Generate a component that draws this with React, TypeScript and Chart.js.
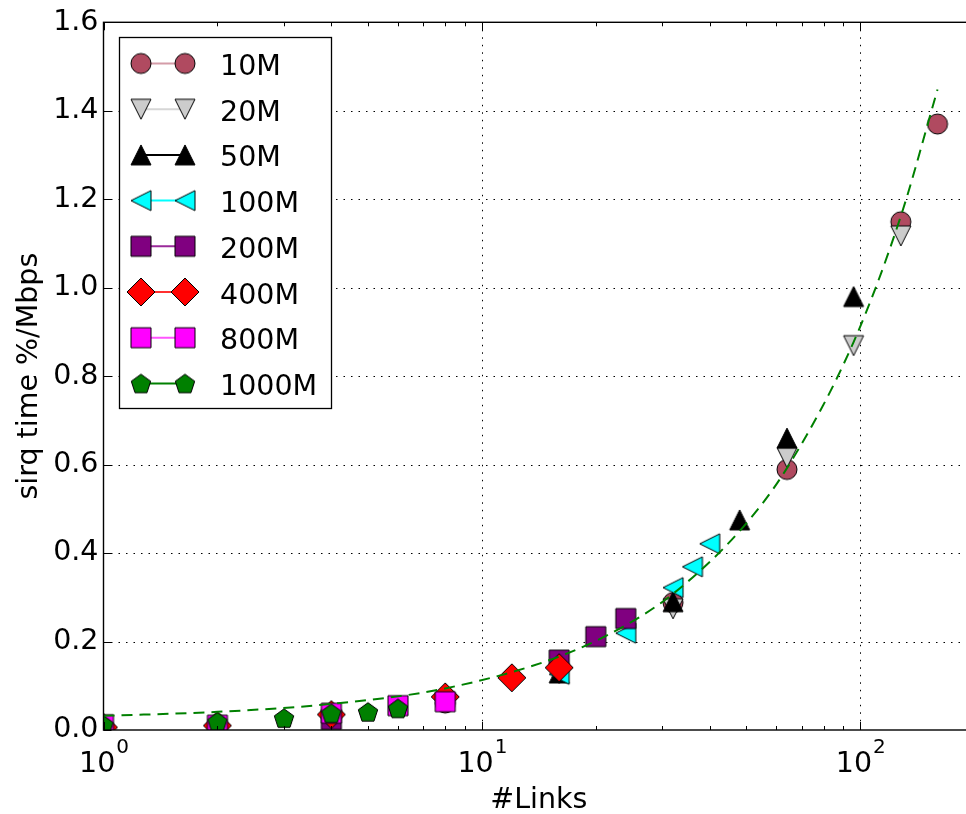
import React, { useEffect, useRef } from 'react';
import { Chart, registerables } from 'chart.js';

Chart.register(...registerables);

// ---------- data ----------
const seriesLabels = ['10M', '20M', '50M', '100M', '200M', '400M', '800M', '1000M'];

const links10M = [8, 32, 64, 128, 160];
const sirq10M = [0.061, 0.288, 0.589, 1.149, 1.37];

const links20M = [16, 32, 64, 96, 128];
const sirq20M = [0.128, 0.274, 0.616, 0.869, 1.117];

const links50M = [16, 32, 48, 64, 96];
const sirq50M = [0.129, 0.29, 0.475, 0.66, 0.98];

const links100M = [16, 24, 32, 36, 40];
const sirq100M = [0.126, 0.219, 0.322, 0.369, 0.421];

const links200M = [4, 16, 20, 24];
const sirq200M = [0.024, 0.158, 0.211, 0.252];

const links400M = [1, 2, 4, 8, 12, 16];
const sirq400M = [0.006, 0.01, 0.035, 0.075, 0.118, 0.141];

const links800M = [1, 2, 4, 6, 8];
const sirq800M = [0.012, 0.011, 0.038, 0.055, 0.064];

const links1000M = [1, 2, 3, 4, 5, 6];
const sirq1000M = [0.012, 0.019, 0.027, 0.038, 0.041, 0.049];

const fitLinks = [1, 2, 4, 8, 16, 24, 32, 48, 64, 96, 128, 160];
const fitSirq = [0.032, 0.041, 0.059, 0.094, 0.166, 0.237, 0.308, 0.45, 0.592, 0.877, 1.162, 1.448];

const yTickValues = [0, 0.2, 0.4, 0.6, 0.8, 1.0, 1.2, 1.4, 1.6];
const xMajorTicks = [1, 10, 100];
const xTickExponents = ['0', '1', '2'];
const xMin = 1;
const xMax = 200;
const yMin = 0;
const yMax = 1.6;

const xTitle = '#Links';
const yTitle = 'sirq time %/Mbps';

// ---------- styles ----------
const FONT = 'DejaVu Sans';
const FS = 28.5;

const seriesStyles = [
  { shape: 'circle', fill: '#b04a60', line: 'rgba(176,74,96,0.55)' },
  { shape: 'down', fill: '#cccccc', line: '#d6d6d6' },
  { shape: 'up', fill: '#000000', line: '#000000' },
  { shape: 'left', fill: '#00ffff', line: '#00ffff' },
  { shape: 'square', fill: '#800080', line: '#9a2a9a' },
  { shape: 'diamond', fill: '#ff0000', line: '#ff3030' },
  { shape: 'square', fill: '#ff00ff', line: '#ff55ff' },
  { shape: 'pentagon', fill: '#008000', line: '#008000' },
];

function makeMarker(shape: string, fill: string): HTMLCanvasElement {
  const size = 32;
  const c = document.createElement('canvas');
  c.width = size;
  c.height = size;
  const g = c.getContext('2d')!;
  const m = size / 2;
  g.beginPath();
  if (shape === 'circle') {
    g.arc(m, m, 10, 0, Math.PI * 2);
  } else if (shape === 'up') {
    g.moveTo(m, m - 10);
    g.lineTo(m + 10, m + 10);
    g.lineTo(m - 10, m + 10);
    g.closePath();
  } else if (shape === 'down') {
    g.moveTo(m, m + 10);
    g.lineTo(m + 10, m - 10);
    g.lineTo(m - 10, m - 10);
    g.closePath();
  } else if (shape === 'left') {
    g.moveTo(m - 10, m);
    g.lineTo(m + 10, m - 10);
    g.lineTo(m + 10, m + 10);
    g.closePath();
  } else if (shape === 'square') {
    g.rect(m - 10, m - 10, 20, 20);
  } else if (shape === 'diamond') {
    g.moveTo(m, m - 14);
    g.lineTo(m + 14, m);
    g.lineTo(m, m + 14);
    g.lineTo(m - 14, m);
    g.closePath();
  } else if (shape === 'pentagon') {
    for (let k = 0; k < 5; k++) {
      const a = -Math.PI / 2 + (k * 2 * Math.PI) / 5;
      const px = m + 10.2 * Math.cos(a);
      const py = m + 1 + 10.2 * Math.sin(a);
      if (k === 0) g.moveTo(px, py);
      else g.lineTo(px, py);
    }
    g.closePath();
  }
  g.fillStyle = fill;
  g.fill();
  g.lineWidth = 1;
  g.strokeStyle = '#000';
  g.stroke();
  return c;
}

export default function App() {
  const ref = useRef<HTMLCanvasElement>(null);

  useEffect(() => {
    const canvas = ref.current;
    if (!canvas) return;

    const markers = seriesStyles.map((s) => makeMarker(s.shape, s.fill));
    const xs = [links10M, links20M, links50M, links100M, links200M, links400M, links800M, links1000M];
    const ys = [sirq10M, sirq20M, sirq50M, sirq100M, sirq200M, sirq400M, sirq800M, sirq1000M];

    const datasets: any[] = seriesLabels.map((label, i) => ({
      label,
      data: xs[i].map((x, j) => ({ x, y: ys[i][j] })),
      showLine: false,
      pointStyle: markers[i],
      pointRadius: 10,
      pointHoverRadius: 10,
      borderColor: seriesStyles[i].fill,
      backgroundColor: seriesStyles[i].fill,
      order: 20 - i,
      clip: 0,
    }));
    datasets.push({
      label: 'fit',
      data: fitLinks.map((x, j) => ({ x, y: fitSirq[j] })),
      showLine: true,
      borderColor: '#008000',
      borderWidth: 2,
      borderDash: [11, 7],
      pointRadius: 0,
      pointHoverRadius: 0,
      cubicInterpolationMode: 'monotone',
      fill: false,
      order: 0,
      clip: 0,
    });

    const decor = {
      id: 'decor',
      beforeDatasetsDraw(chart: any) {
        const { ctx, chartArea: a, scales } = chart;
        ctx.save();
        ctx.strokeStyle = '#000';
        ctx.lineWidth = 1;
        ctx.setLineDash([1.5, 6]);
        for (const v of xMajorTicks) {
          const px = Math.round(scales.x.getPixelForValue(v)) + 0.5;
          if (px <= a.left + 2) continue;
          ctx.beginPath();
          ctx.moveTo(px, a.top);
          ctx.lineTo(px, a.bottom);
          ctx.stroke();
        }
        for (const v of yTickValues) {
          const py = Math.round(scales.y.getPixelForValue(v)) + 0.5;
          if (py >= a.bottom - 2 || py <= a.top + 2) continue;
          ctx.beginPath();
          ctx.moveTo(a.left, py);
          ctx.lineTo(a.right, py);
          ctx.stroke();
        }
        ctx.restore();
      },
      afterDatasetsDraw(chart: any) {
        const { ctx, chartArea: a, scales } = chart;
        ctx.save();
        ctx.setLineDash([]);
        ctx.strokeStyle = '#000';
        // ticks (inward)
        ctx.lineWidth = 1;
        const tick = (x1: number, y1: number, x2: number, y2: number) => {
          ctx.beginPath();
          ctx.moveTo(x1, y1);
          ctx.lineTo(x2, y2);
          ctx.stroke();
        };
        for (let d = 1; d <= 100; d *= 10) {
          for (let k = 1; k <= 9; k++) {
            const v = k * d;
            if (v < xMin || v > xMax) continue;
            const px = Math.round(scales.x.getPixelForValue(v)) + 0.5;
            const len = k === 1 ? 8 : 4;
            tick(px, a.bottom, px, a.bottom - len);
            tick(px, a.top, px, a.top + len);
          }
        }
        for (const v of yTickValues) {
          const py = Math.round(scales.y.getPixelForValue(v)) + 0.5;
          tick(a.left, py, a.left + 8, py);
          tick(a.right, py, a.right - 8, py);
        }
        // frame
        ctx.lineWidth = 1.4;
        ctx.strokeRect(a.left, a.top, a.right - a.left, a.bottom - a.top);

        // x tick labels 10^n
        ctx.fillStyle = '#000';
        ctx.textBaseline = 'alphabetic';
        ctx.textAlign = 'left';
        xMajorTicks.forEach((v, i) => {
          const px = scales.x.getPixelForValue(v);
          ctx.font = `${FS}px "${FONT}"`;
          const wBase = ctx.measureText('10').width;
          ctx.font = `20px "${FONT}"`;
          const wExp = ctx.measureText(xTickExponents[i]).width;
          const start = px - (wBase + wExp) / 2;
          ctx.font = `${FS}px "${FONT}"`;
          ctx.fillText('10', start, 772);
          ctx.font = `20px "${FONT}"`;
          ctx.fillText(xTickExponents[i], start + wBase + 1, 753);
        });

        // axis titles
        ctx.font = `${FS}px "${FONT}"`;
        ctx.textAlign = 'center';
        ctx.fillText(xTitle, (a.left + a.right) / 2, 808);
        ctx.save();
        ctx.translate(37, (a.top + a.bottom) / 2);
        ctx.rotate(-Math.PI / 2);
        ctx.fillText(yTitle, 0, 0);
        ctx.restore();

        // legend
        const bx = 119.5, by = 37.5, bw = 212, bh = 371;
        ctx.fillStyle = '#fff';
        ctx.fillRect(bx, by, bw, bh);
        ctx.lineWidth = 1.3;
        ctx.strokeStyle = '#000';
        ctx.strokeRect(bx, by, bw, bh);
        seriesLabels.forEach((label, i) => {
          const cy = 63.5 + i * 45.7;
          ctx.strokeStyle = seriesStyles[i].line;
          ctx.lineWidth = 2;
          ctx.beginPath();
          ctx.moveTo(141, cy);
          ctx.lineTo(185, cy);
          ctx.stroke();
          const mk = markers[i];
          ctx.drawImage(mk, 141 - mk.width / 2, cy - mk.height / 2);
          ctx.drawImage(mk, 185 - mk.width / 2, cy - mk.height / 2);
          ctx.fillStyle = '#000';
          ctx.textAlign = 'left';
          ctx.font = `${FS}px "${FONT}"`;
          ctx.fillText(label, 220, cy + 11.5);
        });
        ctx.restore();
      },
    };

    const chart = new Chart(canvas, {
      type: 'scatter',
      data: { datasets },
      options: {
        animation: false,
        responsive: false,
        devicePixelRatio: 1,
        events: [],
        layout: { padding: { top: 22.3, right: 15.8, left: 0, bottom: 0 } },
        plugins: { legend: { display: false }, tooltip: { enabled: false }, title: { display: false } },
        scales: {
          x: {
            type: 'logarithmic',
            min: xMin,
            max: xMax,
            ticks: { display: false },
            grid: { display: false, drawTicks: false },
            border: { display: false },
            afterFit: (s: any) => {
              s.height = 84;
            },
          },
          y: {
            type: 'linear',
            min: yMin,
            max: yMax,
            ticks: {
              stepSize: 0.2,
              padding: 5,
              color: '#000',
              font: { family: FONT, size: FS },
              callback: (v: any) => Number(v).toFixed(1),
            },
            grid: { display: false, drawTicks: false },
            border: { display: false },
            afterFit: (s: any) => {
              s.width = 103.5;
            },
          },
        },
      } as any,
      plugins: [decor],
    });

    return () => chart.destroy();
  }, []);

  return (
    <div
      style={{
        position: 'fixed',
        left: 0,
        top: 0,
        width: 966,
        height: 814,
        overflow: 'hidden',
        background: '#fff',
      }}
    >
      <canvas ref={ref} width={990} height={814} style={{ display: 'block', width: 990, height: 814 }} />
    </div>
  );
}
